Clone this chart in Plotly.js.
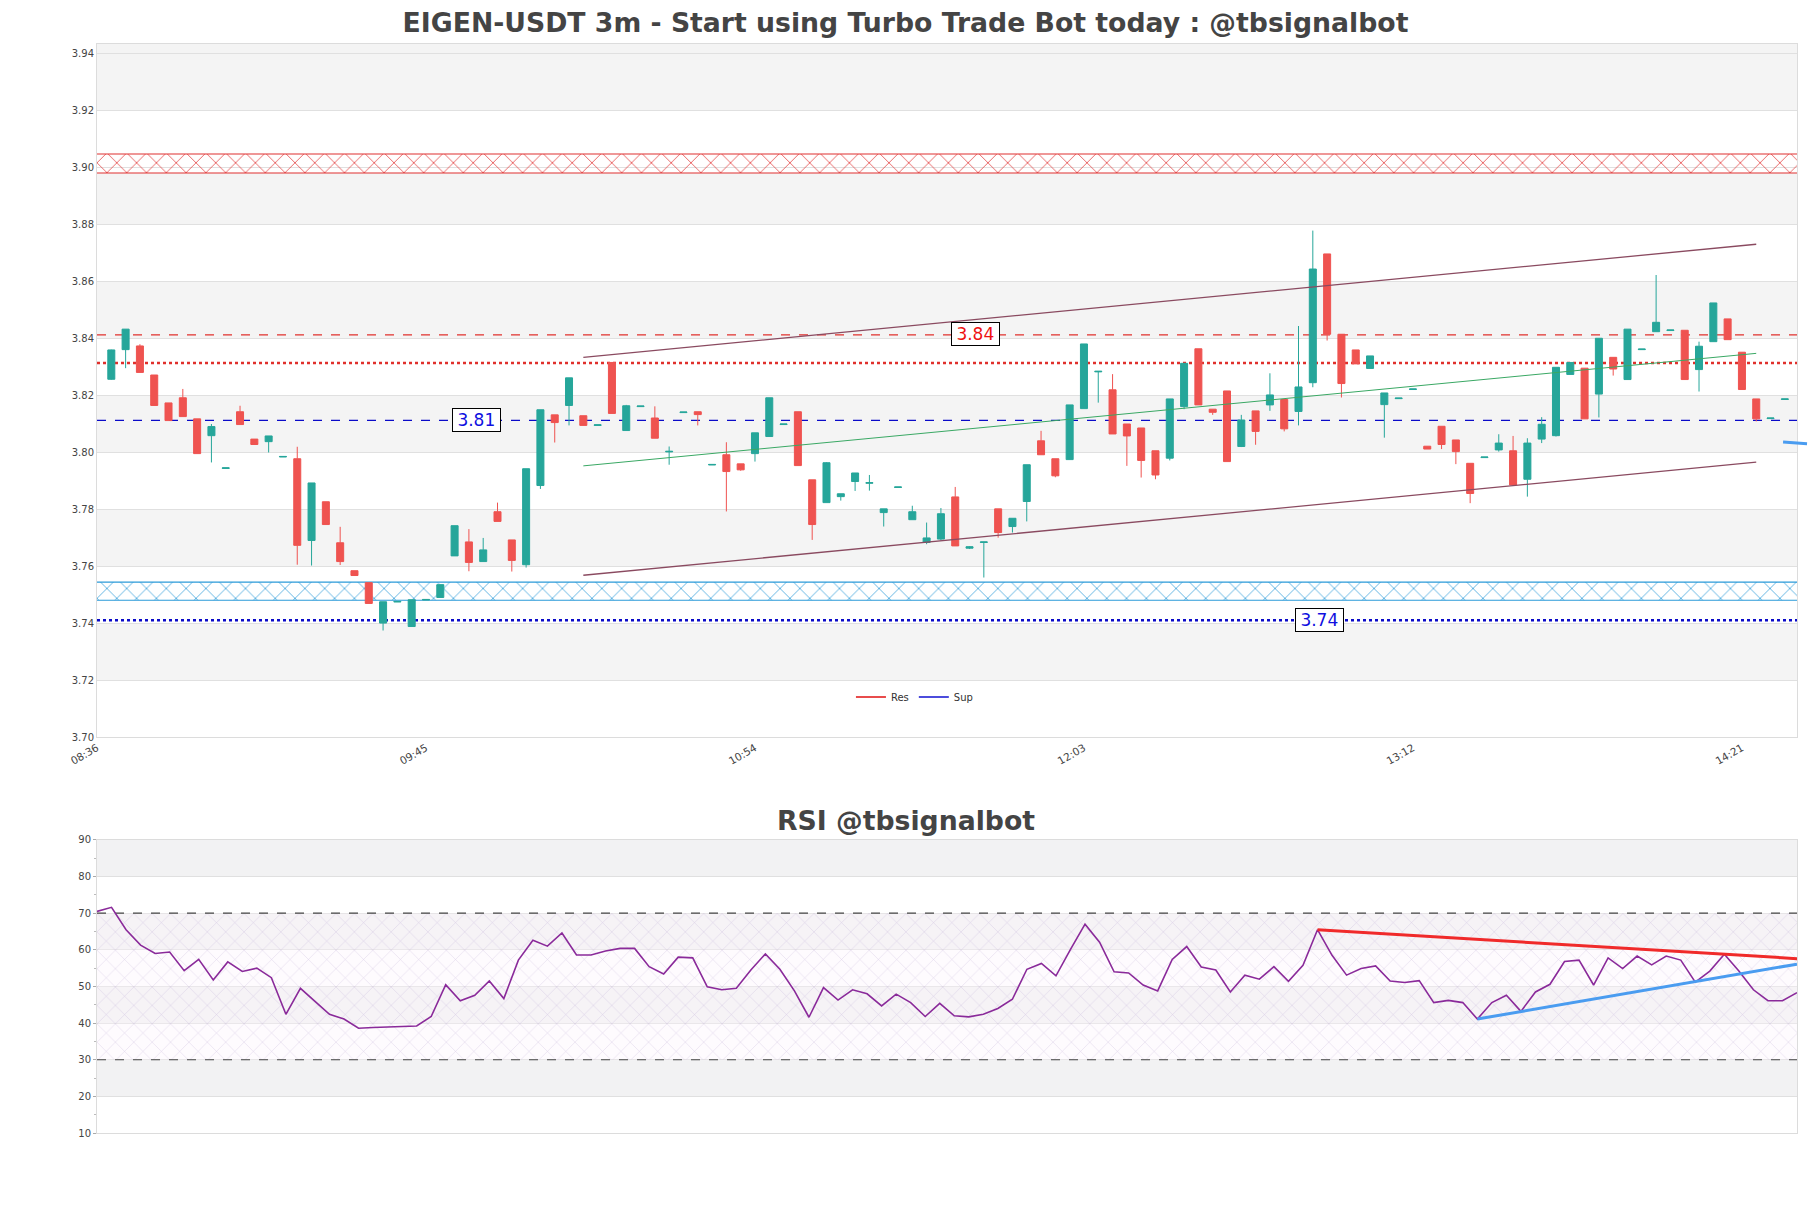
<!DOCTYPE html>
<html>
<head>
<meta charset="utf-8">
<script src="https://cdn.plot.ly/plotly-3.0.1.min.js"></script>
<style>
html,body{margin:0;padding:0;background:#fff;}
#chart{width:1811px;height:1208px;}
</style>
</head>
<body>
<div id="chart"></div>
<script>
// ---------------- DATA ----------------
const START_TIME = [2024, 0, 1, 8, 39];   // first candle 08:39
const STEP_MINUTES = 3;

const OPEN = [3.8256,3.8360,3.8373,3.8271,3.8173,3.8191,3.8117,3.8058,3.7943,3.8142,
3.8046,3.8037,3.7983,3.7977,3.7690,3.7826,3.7682,3.7584,3.7542,3.7400,
3.7474,3.7388,3.7481,3.7490,3.7636,3.7685,3.7616,3.7791,3.7692,3.7605,
3.7883,3.8131,3.8164,3.8128,3.8094,3.8315,3.8076,3.8160,3.8120,3.8001,
3.8139,3.8142,3.7955,3.7991,3.7959,3.7995,3.8055,3.8097,3.8142,3.7903,
3.7823,3.7844,3.7897,3.7891,3.7788,3.7876,3.7763,3.7683,3.7695,3.7843,
3.7663,3.7683,3.7801,3.7739,3.7827,3.8040,3.7977,3.7974,3.8153,3.8282,
3.8219,3.8099,3.8085,3.8005,3.7979,3.8160,3.8363,3.8151,3.8215,3.8020,
3.8145,3.8166,3.8185,3.8143,3.8244,3.8696,3.8414,3.8359,3.8294,3.8167,
3.8188,3.8220,3.8021,3.8091,3.8043,3.7961,3.7981,3.8008,3.8005,3.7905,
3.8046,3.8058,3.8273,3.8295,3.8204,3.8333,3.8255,3.8360,3.8423,3.8427,
3.8428,3.8290,3.8388,3.8468,3.8351,3.8187,3.8118,3.8185];

const HIGH = [3.8360,3.8432,3.8379,3.8271,3.8173,3.8222,3.8117,3.8099,3.7945,3.8163,
3.8046,3.8057,3.7985,3.8019,3.7892,3.7826,3.7738,3.7584,3.7542,3.7475,
3.7476,3.7482,3.7483,3.7535,3.7742,3.7730,3.7699,3.7823,3.7692,3.7942,
3.8149,3.8131,3.8261,3.8128,3.8096,3.8315,3.8166,3.8162,3.8161,3.8020,
3.8141,3.8142,3.7957,3.8035,3.7959,3.8068,3.8191,3.8099,3.8142,3.7903,
3.7965,3.7854,3.7927,3.7920,3.7801,3.7878,3.7812,3.7753,3.7804,3.7878,
3.7670,3.7685,3.7801,3.7768,3.7956,3.8075,3.7977,3.8166,3.8380,3.8284,
3.8274,3.8099,3.8085,3.8005,3.8187,3.8312,3.8363,3.8151,3.8215,3.8131,
3.8145,3.8277,3.8185,3.8443,3.8778,3.8696,3.8414,3.8359,3.8338,3.8208,
3.8190,3.8222,3.8021,3.8091,3.8043,3.7961,3.7983,3.8063,3.8057,3.8049,
3.8123,3.8298,3.8315,3.8295,3.8400,3.8333,3.8432,3.8362,3.8622,3.8429,
3.8428,3.8388,3.8524,3.8468,3.8351,3.8187,3.8120,3.8187];

const LOW = [3.8254,3.8295,3.8280,3.8164,3.8111,3.8125,3.7995,3.7964,3.7943,3.8097,
3.8027,3.7999,3.7983,3.7605,3.7602,3.7746,3.7604,3.7567,3.7469,3.7374,
3.7474,3.7388,3.7481,3.7490,3.7636,3.7582,3.7616,3.7757,3.7581,3.7595,
3.7871,3.8034,3.8094,3.8094,3.8094,3.8136,3.8076,3.8160,3.8049,3.7956,
3.8139,3.8094,3.7955,3.7792,3.7935,3.7967,3.8055,3.8097,3.7953,3.7692,
3.7823,3.7830,3.7864,3.7865,3.7739,3.7876,3.7763,3.7677,3.7690,3.7671,
3.7660,3.7560,3.7700,3.7718,3.7757,3.7991,3.7912,3.7974,3.8153,3.8174,
3.8064,3.7952,3.7911,3.7905,3.7971,3.8151,3.8166,3.8131,3.7967,3.8018,
3.8026,3.8145,3.8073,3.8094,3.8228,3.8392,3.8192,3.8310,3.8294,3.8051,
3.8188,3.8220,3.8011,3.8011,3.7958,3.7821,3.7981,3.8002,3.7885,3.7844,
3.8032,3.8055,3.8273,3.8117,3.8122,3.8269,3.8255,3.8360,3.8423,3.8427,
3.8255,3.8213,3.8388,3.8395,3.8220,3.8108,3.8118,3.8185];

const CLOSE = [3.8359,3.8432,3.8280,3.8164,3.8111,3.8125,3.7995,3.8090,3.7945,3.8097,
3.8027,3.8057,3.7985,3.7673,3.7892,3.7746,3.7616,3.7567,3.7469,3.7475,
3.7476,3.7482,3.7483,3.7535,3.7742,3.7613,3.7657,3.7757,3.7620,3.7942,
3.8149,3.8104,3.8261,3.8094,3.8096,3.8136,3.8163,3.8162,3.8049,3.8003,
3.8141,3.8132,3.7957,3.7932,3.7938,3.8068,3.8191,3.8099,3.7953,3.7746,
3.7963,3.7854,3.7927,3.7893,3.7801,3.7878,3.7791,3.7699,3.7784,3.7671,
3.7668,3.7685,3.7718,3.7768,3.7956,3.7991,3.7917,3.8166,3.8380,3.8284,
3.8064,3.8057,3.7971,3.7920,3.8187,3.8312,3.8166,3.8140,3.7967,3.8113,
3.8073,3.8201,3.8082,3.8229,3.8643,3.8414,3.8241,3.8310,3.8338,3.8208,
3.8190,3.8222,3.8011,3.8027,3.8002,3.7855,3.7983,3.8032,3.7885,3.8032,
3.8098,3.8298,3.8315,3.8117,3.8400,3.8292,3.8432,3.8362,3.8456,3.8429,
3.8255,3.8372,3.8524,3.8395,3.8220,3.8117,3.8120,3.8187];

const RSI = [70.5,71.6,65.5,61.3,59.0,59.4,54.3,57.4,51.8,56.7,
54.1,55.0,52.4,42.4,49.5,45.9,42.4,41.1,38.6,38.8,
38.9,39.2,39.2,41.8,50.5,46.1,47.6,51.5,46.7,57.2,
62.6,61.0,64.6,58.6,58.6,59.7,60.4,60.4,55.4,53.4,
58.0,57.8,49.9,49.1,49.5,54.5,58.9,54.7,48.8,41.6,
49.7,46.3,49.1,48.0,44.7,47.9,45.6,41.8,45.4,42.0,
41.7,42.4,44.0,46.5,54.7,56.3,52.9,60.1,67.0,62.1,
54.0,53.7,50.4,48.8,57.4,60.9,55.3,54.5,48.5,53.1,
52.0,55.4,51.4,55.8,65.5,58.5,53.1,54.9,55.6,51.5,
51.1,51.6,45.6,46.2,45.6,41.1,45.6,47.6,43.2,48.5,
50.6,56.8,57.2,50.4,57.8,54.9,58.3,55.9,58.3,57.2,
51.2,54.2,58.8,54.2,49.1,46.1,46.1,48.3];

const TICK_LABELS = ['08:36','09:45','10:54','12:03','13:12','14:21'];
const TICK_CANDLE_INDEX = [-1, 22, 45, 68, 91, 114];

// support / resistance
const RES_ZONE = [3.8980, 3.9047];
const SUP_ZONE = [3.7480, 3.7544];
const RES_DASH_LEVEL = 3.8412, RES_DASH_LABEL = '3.84';
const RES_DOT_LEVEL = 3.8313;
const SUP_DASH_LEVEL = 3.8112, SUP_DASH_LABEL = '3.81';
const SUP_DOT_LEVEL = 3.7410, SUP_DOT_LABEL = '3.74';

// regression channel (candle index -> price)
const CHANNEL_IDX = [33, 115];
const CHANNEL_UPPER = [3.8333, 3.8730];
const CHANNEL_MID = [3.7952, 3.8347];
const CHANNEL_LOWER = [3.7568, 3.7965];

// RSI levels & trend lines
const RSI_BOUNDS = [30, 70];
const RSI_RES_IDX = [84, 117], RSI_RES_VAL = [65.5, 57.6];
const RSI_SUP_IDX = [95, 117], RSI_SUP_VAL = [41.1, 56.1];

// ---------------- HELPERS ----------------
function t(i){
  const base = Date.UTC(START_TIME[0],START_TIME[1],START_TIME[2],START_TIME[3],START_TIME[4]);
  const d = new Date(base + i*STEP_MINUTES*60000);
  return d.toISOString().replace('T',' ').slice(0,19);
}
const N = OPEN.length;
const TIMES = OPEN.map((_,i)=>t(i));
const X_RANGE = [t(-1), t(117.85)];
const X2_RANGE = [t(0), t(N-1)];
const Y_RANGE = [3.70, 3.9433];

const RED = '#e0302c', BLUE = '#0a0ac8';
const traces = [];

// hatched zones (base price axes, under the candles)
function zone(z, color){
  traces.push({x:[X_RANGE[0],X_RANGE[1],X_RANGE[1],X_RANGE[0],X_RANGE[0]], y:[z[0],z[0],z[1],z[1],z[0]],
    xaxis:'x', yaxis:'y', mode:'none', fill:'toself', fillcolor:'rgba(0,0,0,0)',
    fillpattern:{shape:'x', fgcolor:color, bgcolor:'rgba(0,0,0,0)', size:14, solidity:0.1},
    showlegend:false, hoverinfo:'skip'});
  z.forEach(v=>traces.push({x:X_RANGE, y:[v,v], xaxis:'x', yaxis:'y', mode:'lines',
    line:{color:color, width:1.1}, showlegend:false, hoverinfo:'skip'}));
}
zone(RES_ZONE, '#e03030');
zone(SUP_ZONE, '#2a9ad8');

function hline(level, color, dash, width){
  traces.push({x:X_RANGE, y:[level,level], xaxis:'x', yaxis:'y', mode:'lines',
    line:{color:color, dash:dash, width:width}, showlegend:false, hoverinfo:'skip'});
}
hline(RES_DASH_LEVEL, RED, 'dash', 1.2);
hline(RES_DOT_LEVEL, RED, 'dot', 2.6);
hline(SUP_DASH_LEVEL, BLUE, 'dash', 1.2);
hline(SUP_DOT_LEVEL, BLUE, 'dot', 2.6);

// candles (overlay axis so they sit above the zones and level lines)
traces.push({type:'candlestick', x:TIMES, open:OPEN, high:HIGH, low:LOW, close:CLOSE,
  xaxis:'x', yaxis:'y3', whiskerwidth:0,
  increasing:{line:{color:'#26a69a', width:1}, fillcolor:'#26a69a'},
  decreasing:{line:{color:'#ef5350', width:1}, fillcolor:'#ef5350'},
  showlegend:false, hoverinfo:'skip'});

// channel
const chX = CHANNEL_IDX.map(t);
traces.push({x:chX, y:CHANNEL_UPPER, xaxis:'x', yaxis:'y3', mode:'lines', line:{color:'#8a4a60', width:1.3}, showlegend:false, hoverinfo:'skip'});
traces.push({x:chX, y:CHANNEL_LOWER, xaxis:'x', yaxis:'y3', mode:'lines', line:{color:'#8a4a60', width:1.3}, showlegend:false, hoverinfo:'skip'});
traces.push({x:chX, y:CHANNEL_MID, xaxis:'x', yaxis:'y3', mode:'lines', line:{color:'#3aa864', width:1}, showlegend:false, hoverinfo:'skip'});

// legend entries
traces.push({x:[null], y:[null], xaxis:'x', yaxis:'y', mode:'lines', name:'Res', line:{color:'#e01010', width:1.5}, showlegend:true});
traces.push({x:[null], y:[null], xaxis:'x', yaxis:'y', mode:'lines', name:'Sup', line:{color:'#1010d0', width:1.5}, showlegend:true});

// RSI hatch area
traces.push({x:[X2_RANGE[0],X2_RANGE[1],X2_RANGE[1],X2_RANGE[0],X2_RANGE[0]],
  y:[RSI_BOUNDS[0],RSI_BOUNDS[0],RSI_BOUNDS[1],RSI_BOUNDS[1],RSI_BOUNDS[0]],
  xaxis:'x2', yaxis:'y2', mode:'none', fill:'toself', fillcolor:'rgba(0,0,0,0)',
  fillpattern:{shape:'x', fgcolor:'rgba(170,145,200,0.5)', bgcolor:'rgba(250,244,252,0.35)', size:13, solidity:0.06},
  showlegend:false, hoverinfo:'skip'});
RSI_BOUNDS.forEach(v=>traces.push({x:X2_RANGE, y:[v,v], xaxis:'x2', yaxis:'y2', mode:'lines',
  line:{color:'#444', dash:'dash', width:1.2}, showlegend:false, hoverinfo:'skip'}));

traces.push({x:TIMES, y:RSI, xaxis:'x2', yaxis:'y2', mode:'lines', line:{color:'#8a2a9a', width:1.6}, showlegend:false, hoverinfo:'skip'});
traces.push({x:RSI_RES_IDX.map(t), y:RSI_RES_VAL, xaxis:'x2', yaxis:'y2', mode:'lines', line:{color:'#f02a2a', width:3}, showlegend:false, hoverinfo:'skip'});
traces.push({x:RSI_SUP_IDX.map(t), y:RSI_SUP_VAL, xaxis:'x2', yaxis:'y2', mode:'lines', line:{color:'#4a9cf0', width:3}, showlegend:false, hoverinfo:'skip'});

// ---------------- LAYOUT ----------------
const shapes = [];
[[3.72,3.74],[3.76,3.78],[3.80,3.82],[3.84,3.86],[3.88,3.90],[3.92,3.9433]].forEach(b=>{
  shapes.push({type:'rect', xref:'x domain', yref:'y', x0:0, x1:1, y0:b[0], y1:b[1], fillcolor:'#f4f4f4', line:{width:0}, layer:'below'});
});
// white backing for the hatched zones
[RES_ZONE, SUP_ZONE].forEach(z=>{
  shapes.push({type:'rect', xref:'x domain', yref:'y', x0:0, x1:1, y0:z[0], y1:z[1], fillcolor:'#ffffff', line:{width:0}, layer:'below'});
});
[[80,90],[60,70],[40,50],[20,30]].forEach(b=>{
  shapes.push({type:'rect', xref:'x2 domain', yref:'y2', x0:0, x1:1, y0:b[0], y1:b[1], fillcolor:'#f2f2f3', line:{width:0}, layer:'below'});
});
// small light-blue projection marker at the right edge
shapes.push({type:'line', xref:'paper', yref:'y', x0:0.9918, x1:1.0059, y0:3.8036, y1:3.8030, line:{color:'#4a9cf0', width:3}});

function levelLabel(text, xp, y, color){
  return {xref:'paper', yref:'y', x:xp, y:y, text:'\u2009'+text+'\u2009', showarrow:false,
    font:{family:'DejaVu Sans', size:17, color:color}, bgcolor:'#ffffff',
    bordercolor:'#000', borderwidth:1, borderpad:1, xanchor:'center', yanchor:'middle'};
}

const layout = {
  width:1811, height:1208,
  margin:{l:97, r:14, t:44, b:75},
  paper_bgcolor:'#ffffff', plot_bgcolor:'#ffffff',
  font:{family:'DejaVu Sans', color:'#444', size:10},
  title:{text:'EIGEN-USDT 3m - Start using Turbo Trade Bot today : @tbsignalbot',
    x:0.5, xref:'container', xanchor:'center', y:1-23/1208, yref:'container', yanchor:'middle',
    font:{family:'DejaVu Sans', size:26.7, weight:'bold', color:'#444'}},
  showlegend:true,
  legend:{orientation:'h', x:0.4435, xanchor:'left', y:0.4004, yanchor:'middle', yref:'paper',
    bgcolor:'rgba(0,0,0,0)', font:{size:10, color:'#333'}, itemwidth:30, tracegroupgap:0},
  xaxis:{type:'date', domain:[0,1], anchor:'y', range:X_RANGE, rangeslider:{visible:false},
    tickvals:TICK_CANDLE_INDEX.map(t), ticktext:TICK_LABELS, tickangle:-30,
    showgrid:false, showline:true, mirror:true, linecolor:'#dcdcdc', zeroline:false,
    tickfont:{size:10.5, color:'#444'}},
  yaxis:{domain:[0.3636,1], anchor:'x', range:Y_RANGE, tick0:3.70, dtick:0.02, tickformat:'.2f',
    gridcolor:'#e0e0e0', showline:true, mirror:true, linecolor:'#dcdcdc', zeroline:false,
    tickfont:{size:10, color:'#444'}},
  yaxis3:{overlaying:'y', anchor:'x', range:Y_RANGE, visible:false, showgrid:false, zeroline:false},
  xaxis2:{type:'date', domain:[0,1], anchor:'y2', range:X2_RANGE, showticklabels:false,
    showgrid:false, showline:true, mirror:true, linecolor:'#dcdcdc', zeroline:false},
  yaxis2:{domain:[0,0.2691], anchor:'x2', range:[10,90], tick0:10, dtick:10,
    gridcolor:'#e0e0e0', showline:true, mirror:true, linecolor:'#dcdcdc', zeroline:false,
    ticks:'outside', ticklen:3, tickcolor:'#aaa',
    minor:{ticks:'outside', dtick:5, ticklen:2, tickcolor:'#bbb', showgrid:false},
    tickfont:{size:10, color:'#444'}},
  shapes:shapes,
  annotations:[
    levelLabel(RES_DASH_LABEL, 0.517, RES_DASH_LEVEL+0.0003, '#ee1111'),
    levelLabel(SUP_DASH_LABEL, 0.223, SUP_DASH_LEVEL, '#1010e0'),
    levelLabel(SUP_DOT_LABEL, 0.719, SUP_DOT_LEVEL, '#1010e0'),
    {xref:'paper', yref:'paper', x:0.476, y:0.2874, text:'RSI @tbsignalbot', showarrow:false,
     xanchor:'center', yanchor:'middle', font:{family:'DejaVu Sans', size:26.7, weight:'bold', color:'#444'}}
  ]
};

Plotly.newPlot('chart', traces, layout, {displayModeBar:false, staticPlot:true});
</script>
</body>
</html>
